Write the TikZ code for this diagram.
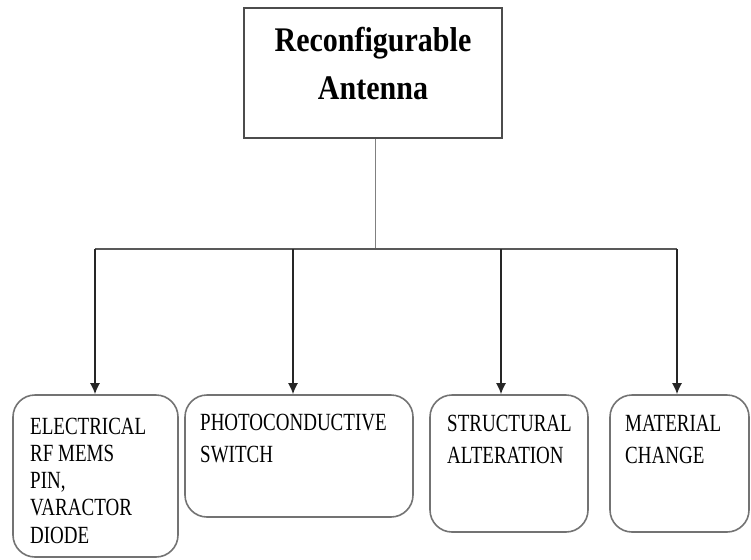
\documentclass[tikz,border=0pt]{standalone}
\usepackage{fontspec}
\usepackage{graphicx}
\setmainfont{Liberation Serif}
\usetikzlibrary{arrows.meta}
\tikzset{
  topbox/.style={draw=black!70, line width=1.6pt, inner sep=0pt},
  subbox/.style={draw=black!55, line width=1.6pt, rounded corners=22pt, inner sep=0pt},
  boxtext/.style={anchor=base west, inner sep=0pt, align=left},
  arr/.style={draw=black!85, line width=1.5pt, -{Latex[length=11pt,width=10pt]}},
  bus/.style={draw=black!65, line width=1.8pt},
  stem/.style={draw=black!50, line width=0.9pt}
}
\newcommand{\tallA}[1]{\scalebox{1}[1.15]{#1}}
\newcommand{\tallB}[1]{\scalebox{1}[1.3]{#1}}
\begin{document}
\begin{tikzpicture}[x=1pt,y=-1pt]
\useasboundingbox (0,0) rectangle (751,559);
% top box
\node[topbox, minimum width=258pt, minimum height=130pt] (top) at (373,73) {};
\node[anchor=base, inner sep=0pt] (toptext) at (373,52)
  {\tallA{\fontsize{30}{41}\selectfont\bfseries\begin{tabular}[t]{@{}c@{}}Reconfigurable\\Antenna\end{tabular}}};
% sub boxes
\node[subbox, minimum width=165pt, minimum height=162pt] (b1) at (95.5,476) {};
\node[subbox, minimum width=228pt, minimum height=122pt] (b2) at (299,456) {};
\node[subbox, minimum width=158pt, minimum height=137pt] (b3) at (509,463.5) {};
\node[subbox, minimum width=139pt, minimum height=137pt] (b4) at (679.5,463.5) {};
% texts
\node[boxtext] (t1) at (30,434)
  {\tallB{\fontsize{19}{21}\selectfont\begin{tabular}[t]{@{}l@{}}ELECTRICAL\\RF MEMS\\PIN,\\VARACTOR\\DIODE\end{tabular}}};
\node[boxtext] (t2) at (200,430)
  {\tallB{\fontsize{19}{25}\selectfont\begin{tabular}[t]{@{}l@{}}PHOTOCONDUCTIVE\\SWITCH\end{tabular}}};
\node[boxtext] (t3) at (447,431)
  {\tallB{\fontsize{19}{25}\selectfont\begin{tabular}[t]{@{}l@{}}STRUCTURAL\\ALTERATION\end{tabular}}};
\node[boxtext] (t4) at (625,431)
  {\tallB{\fontsize{19}{25}\selectfont\begin{tabular}[t]{@{}l@{}}MATERIAL\\CHANGE\end{tabular}}};
% connectors
\coordinate (j) at (375,249);
\coordinate (c1) at (95,249);
\coordinate (c2) at (293,249);
\coordinate (c3) at (501,249);
\coordinate (c4) at (677,249);
\draw[stem] (top.south -| j) -- (j);
\draw[bus] (c1) -- (c4);
\draw[arr] (c1) -- (c1 |- b1.north);
\draw[arr] (c2) -- (c2 |- b2.north);
\draw[arr] (c3) -- (c3 |- b3.north);
\draw[arr] (c4) -- (c4 |- b4.north);
\end{tikzpicture}
\end{document}
